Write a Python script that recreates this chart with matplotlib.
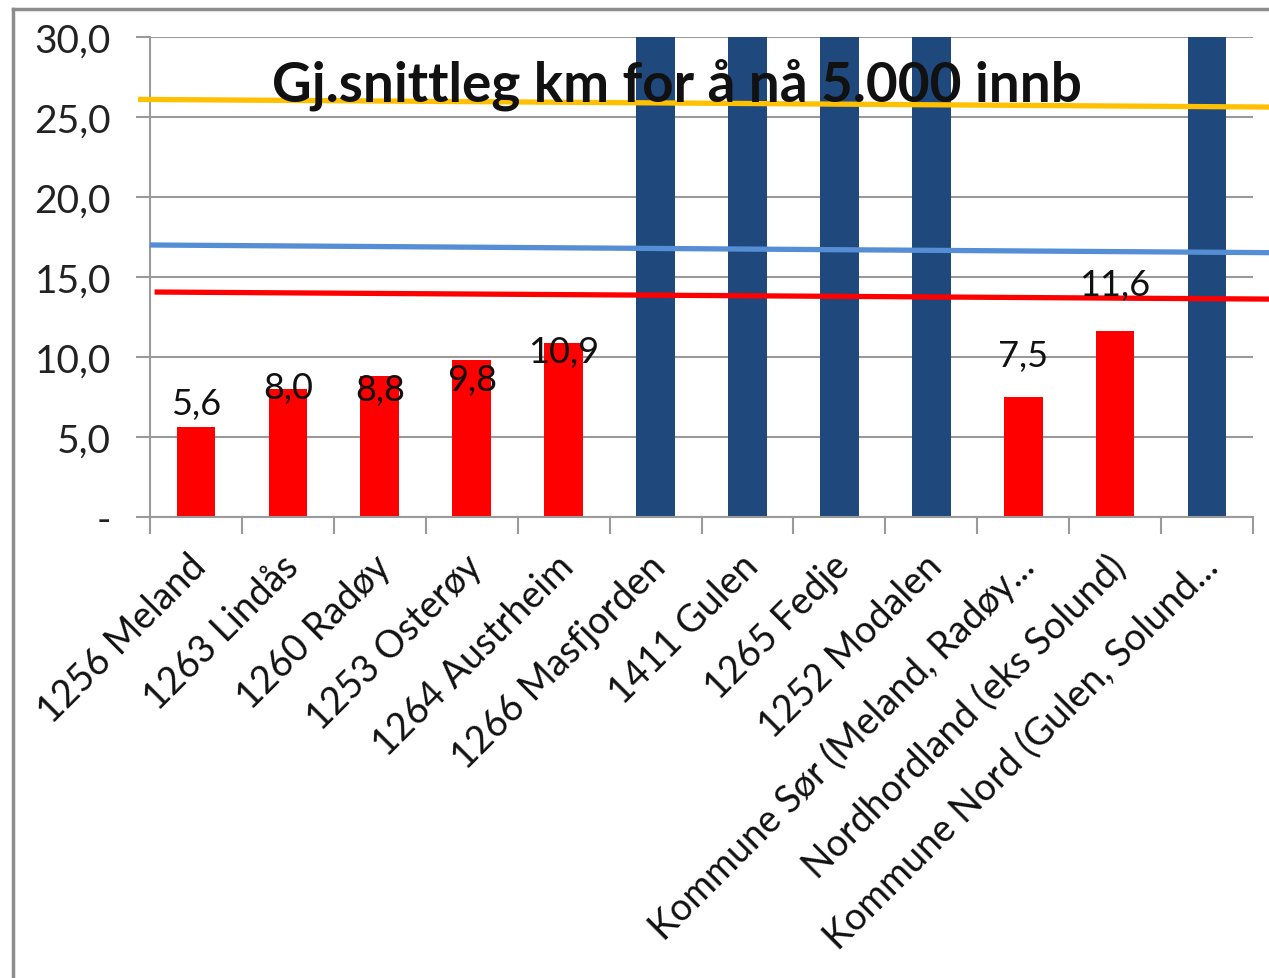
import matplotlib
matplotlib.use("Agg")
import matplotlib.pyplot as plt
from matplotlib.lines import Line2D
from matplotlib.transforms import ScaledTranslation

plt.rcParams['font.family'] = ['Lato', 'DejaVu Sans']

# Data
categories = ['1256 Meland', '1263 Lindås', '1260 Radøy', '1253 Osterøy',
              '1264 Austrheim', '1266 Masfjorden', '1411 Gulen', '1265 Fedje',
              '1252 Modalen', 'Kommune Sør (Meland, Radøy...',
              'Nordhordland (eks Solund)', 'Kommune Nord (Gulen, Solund...']
values = [5.6, 8.0, 8.8, 9.8, 10.9, 40.0, 40.0, 40.0, 40.0, 7.5, 11.6, 40.0]
highlight = [False, False, False, False, False, True, True, True, True, False, False, True]
labels_shown = [True, True, True, True, True, False, False, False, False, True, True, False]

# reference lines (start, end)
yellow_line = [26.1, 25.6]
blue_line = [17.0, 16.5]
red_line = [14.06, 13.6]

yticks = [0, 5, 10, 15, 20, 25, 30]
ytick_labels = ['-', '5,0', '10,0', '15,0', '20,0', '25,0', '30,0']

# where the (manually placed) data labels sit, baseline in data units
label_base = [6.44, 7.44, 7.3, 7.94, 9.69, 0, 0, 0, 0, 9.44, 13.9, 0]

fig = plt.figure(figsize=(12.69, 9.79), dpi=100)
ax = fig.add_axes([0.1182, 0.4709, 0.8692, 0.4903])

colors = ['#1F497D' if h else '#FF0000' for h in highlight]
x = list(range(len(categories)))
ax.bar(x, values, width=0.42, color=colors, zorder=2)

ax.set_xlim(-0.5, len(categories) - 0.5)
ax.set_ylim(0, 30)
ax.set_yticks(yticks)
ax.set_yticklabels(ytick_labels, fontsize=28, color='#222222')
ax.yaxis.grid(True, color='#9a9a9a', linewidth=1.5, zorder=0)
ax.set_axisbelow(True)

for s in ['top', 'right']:
    ax.spines[s].set_visible(False)
for s in ['left', 'bottom']:
    ax.spines[s].set_color('#9a9a9a')
    ax.spines[s].set_linewidth(1.5)

ax.tick_params(axis='y', length=10, width=1.5, color='#9a9a9a', pad=18)
ax.set_xticks([i - 0.5 for i in range(len(categories) + 1)], minor=True)
ax.set_xticks(x)
ax.set_xticklabels(categories, rotation=45, ha='right', va='top',
                   rotation_mode='anchor', fontsize=27, color='#111111')
ax.tick_params(axis='x', which='major', length=0, pad=22)
ax.tick_params(axis='x', which='minor', length=12, width=1.5, color='#9a9a9a')
for lbl in ax.get_xticklabels():
    lbl.set_transform(lbl.get_transform() + ScaledTranslation(-0.08, 0, fig.dpi_scale_trans))

# data labels
for xi, v, show, yb in zip(x, values, labels_shown, label_base):
    if show:
        ax.text(xi, yb, f'{v:.1f}'.replace('.', ','), ha='center', va='baseline',
                fontsize=26, color='#111111', zorder=4)

# horizontal reference lines
for vals, x0, c in [(yellow_line, -0.63, '#FFC000'), (blue_line, -0.5, '#558ED5'),
                    (red_line, -0.45, '#FF0000')]:
    ax.plot([x0, 12.2], vals, color=c, linewidth=3.8, clip_on=False, zorder=3,
            solid_capstyle='butt')

ax.text(0.478, 0.902, 'Gj.snittleg km for å nå 5.000 innb', transform=ax.transAxes,
        ha='center', va='center', fontsize=39.5, fontweight='bold', color='#111111', zorder=5)

# outer chart frame
fig.add_artist(Line2D([13 / 1269, 13 / 1269], [0, 1 - 10 / 979], color='#8c8c8c', linewidth=2.5))
fig.add_artist(Line2D([13 / 1269, 1], [1 - 10 / 979, 1 - 10 / 979], color='#8c8c8c', linewidth=2.5))

fig.savefig('out.png', dpi=100)
